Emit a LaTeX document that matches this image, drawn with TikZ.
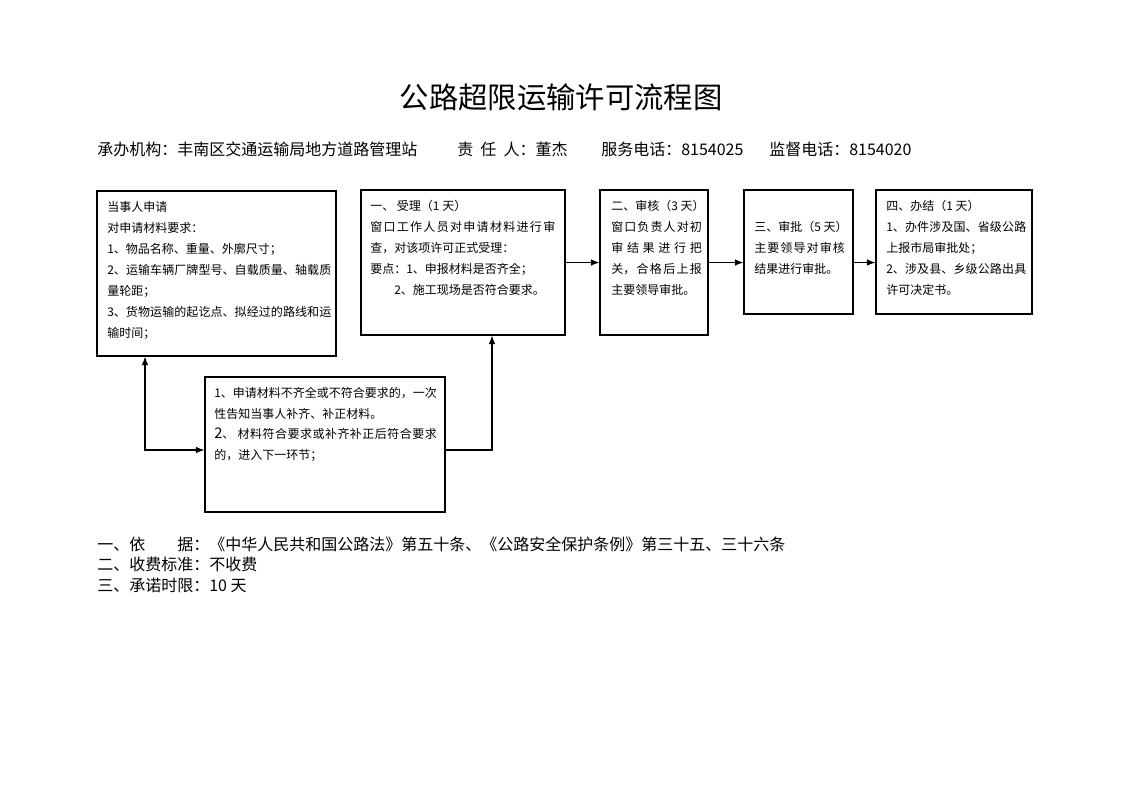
\documentclass[tikz,border=0pt]{standalone}
\usepackage{fontspec}
\setmainfont{Noto Sans CJK SC}
\XeTeXlinebreaklocale "zh"
\XeTeXlinebreakskip=0pt plus 1pt
\usetikzlibrary{fit,arrows.meta}
\begin{document}
\begin{tikzpicture}[x=0.75pt, y=-0.75pt, >={Latex[length=6.5pt, width=5pt]},
                        box/.style={
                        draw, line width=0.8pt,
                        inner sep=0pt},
                        boxtext/.style={
                        anchor=north west,
                        inner sep=0pt,
                        align=justify,
                        font=\fontsize{9}{15.75}\selectfont},
                        line/.style={
                        anchor=base west,
                        inner sep=0pt,
                        font=\fontsize{12}{15}\selectfont}]
                        \useasboundingbox (0,0) rectangle (1122,793);
                        \node [anchor=base, font=\fontsize{22}{26}\selectfont] (title) at (561,108) {公路超限运输许可流程图};
                        \node [line] (office) at (97,155) {承办机构：丰南区交通运输局地方道路管理站};
                        \node [line] (chief) at (457,155) {责\ \ 任\ \ 人：董杰};
                        \node [line] (service) at (601,155) {服务电话：8154025};
                        \node [line] (supervise) at (769,155) {监督电话：8154020};
                        \node [box, fit={(97,191) (336,356)}] (apply) {};
                        \node [box, fit={(361,190) (565,335)}] (accept) {};
                        \node [box, fit={(600,190) (708,335)}] (review) {};
                        \node [box, fit={(744,190) (853,314)}] (approve) {};
                        \node [box, fit={(876,190) (1032,314)}] (finish) {};
                        \node [box, fit={(205,377) (445,512)}] (notice) {};
                        \node [boxtext, text width=168pt] (applytext) at (107,201) {当事人申请\\
                        对申请材料要求：\\
                        1、物品名称、重量、外廓尺寸；\\
                        2、运输车辆厂牌型号、自载质量、轴载质\linebreak 量轮距；\\
                        3、货物运输的起讫点、拟经过的路线和运\linebreak 输时间；};
                        \node [boxtext, text width=138.75pt] (accepttext) at (370,200) {一、\ 受理（1 天）\\
                        窗口工作人员对申请材料进行审\linebreak 查，对该项许可正式受理：\\
                        要点：1、申报材料是否齐全；\\
                        \mbox{\hspace*{2em}2、施工现场是否符合要求。}};
                        \node [boxtext, text width=68pt] (reviewtext) at (611,200) {\mbox{二、审核（3 天）}\\
                        窗口负责人对初\linebreak 审结果进行把\linebreak 关，合格后上报\linebreak 主要领导审批。};
                        \node [boxtext, text width=68pt] (approvetext) at (754,221) {\mbox{三、审批（5 天）}\\
                        主要领导对审核\linebreak 结果进行审批。};
                        \node [boxtext, text width=105pt] (finishtext) at (886,200) {四、办结（1 天）\\
                        1、办件涉及国、省级公路\linebreak 上报市局审批处；\\
                        2、涉及县、乡级公路出具\linebreak 许可决定书。};
                        \node [boxtext, text width=167pt, font=\fontsize{9}{15.5}\selectfont] (noticetext) at (214,387) {1、申请材料不齐全或不符合要求的，一次\linebreak 性告知当事人补齐、补正材料。\\
                        {\fontsize{11}{15.5}\selectfont 2}、\ 材料符合要求或补齐补正后符合要求\linebreak 的，进入下一环节；};
                        \coordinate (lbend) at (145,450);
                        \coordinate (rbend) at (492,450);
                        \draw [->, line width=0.8pt] (accept) edge (review);
                        \draw [->, line width=0.8pt] (review.east |- accept.east) -- (approve.west |- accept.east);
                        \draw [->, line width=0.8pt] (approve.east |- accept.east) -- (finish.west |- accept.east);
                        \draw [<->, line width=0.8pt] (apply.south -| lbend) -- (lbend) -- (notice.west |- lbend);
                        \draw [->, line width=0.8pt] (notice.east |- rbend) -- (rbend) -- (accept.south -| rbend);
                        \node [line] (basis) at (97,550) {一、依\hspace{2em}据：《中华人民共和国公路法》第五十条、《公路安全保护条例》第三十五、三十六条};
                        \node [line] (fee) at (97,570) {二、收费标准：不收费};
                        \node [line] (limit) at (97,591) {三、承诺时限：10 天};
\end{tikzpicture}
\end{document}
